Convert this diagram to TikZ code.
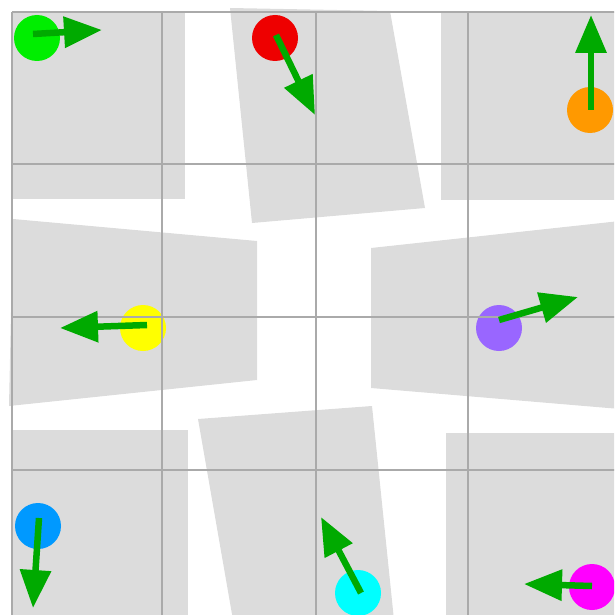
\documentclass[tikz,border=0pt]{standalone}
\usetikzlibrary{arrows.meta}
\definecolor{shapegray}{HTML}{DCDCDC}
\definecolor{gridgray}{HTML}{AAAAAA}
\definecolor{arrowgreen}{HTML}{00AA00}
\definecolor{cgreen}{HTML}{00EE00}
\definecolor{cred}{HTML}{EE0000}
\definecolor{corange}{HTML}{FF9900}
\definecolor{cyellow}{HTML}{FFFF00}
\definecolor{cpurple}{HTML}{9966FF}
\definecolor{cblue}{HTML}{0099FF}
\definecolor{ccyan}{HTML}{00FFFF}
\definecolor{cmagenta}{HTML}{FF00FF}
\tikzset{
  panel/.style={fill=shapegray, draw=none},
  dot/.style={circle, minimum size=46pt, inner sep=0pt, draw=none},
  gridline/.style={draw=gridgray, line width=2.8pt},
  arr/.style={draw=arrowgreen, line width=6.5pt, -{Triangle[length=38pt,width=30pt]}}
}
\begin{document}
\begin{tikzpicture}[x=1pt,y=-1pt]
\useasboundingbox (0,0) rectangle (614,615);
\clip (0,0) rectangle (614,615);
% gray panels
\fill[panel] (12,12) rectangle (185,199);
\fill[panel] (230,8) -- (390,11) -- (425,208) -- (252,223) -- cycle;
\fill[panel] (441,12) rectangle (620,200);
\fill[panel] (13,219) -- (257,241) -- (257,380) -- (9,406) -- cycle;
\fill[panel] (371,248) -- (620,221) -- (620,409) -- (371,388) -- cycle;
\fill[panel] (12,430) rectangle (188,620);
\fill[panel] (198,419) -- (372,406) -- (394,620) -- (233,620) -- cycle;
\fill[panel] (446,433) rectangle (620,620);
% circles
\node[dot, fill=cgreen] (g) at (37,38) {};
\node[dot, fill=cred] (r) at (275,38) {};
\node[dot, fill=corange] (o) at (590,110) {};
\node[dot, fill=cyellow] (y) at (143,328) {};
\node[dot, fill=cpurple] (p) at (499,328) {};
\node[dot, fill=cblue] (b) at (38,526) {};
\node[dot, fill=ccyan] (c) at (358,593) {};
\node[dot, fill=cmagenta] (m) at (592,587) {};
% grid
\foreach \v in {12,164,317,470} {\draw[gridline] (12,\v) -- (620,\v);}
\foreach \u in {12,162,316,468} {\draw[gridline] (\u,12) -- (\u,620);}
% arrow start / end coordinates
\coordinate (gs) at (33,34);  \coordinate (ge) at (102,30);
\coordinate (rs) at (276,35); \coordinate (re) at (315,115);
\coordinate (os) at (591,110);\coordinate (oe) at (591,15);
\coordinate (ys) at (147,325);\coordinate (ye) at (60,328);
\coordinate (ps) at (499,320);\coordinate (pe) at (578,297);
\coordinate (bs) at (39,518); \coordinate (be) at (33,608);
\coordinate (cs) at (361,593);\coordinate (ce) at (321,517);
\coordinate (ms) at (592,586);\coordinate (me) at (524,584);
\draw[arr] (gs) -- (ge);
\draw[arr] (rs) -- (re);
\draw[arr] (os) -- (oe);
\draw[arr] (ys) -- (ye);
\draw[arr] (ps) -- (pe);
\draw[arr] (bs) -- (be);
\draw[arr] (cs) -- (ce);
\draw[arr] (ms) -- (me);
\end{tikzpicture}
\end{document}
